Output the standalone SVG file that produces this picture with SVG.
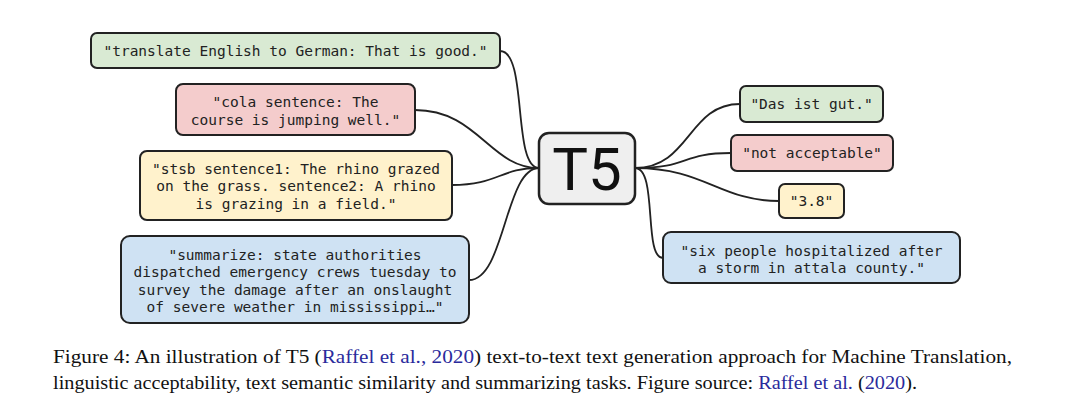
<svg xmlns="http://www.w3.org/2000/svg" width="1080" height="412" viewBox="0 0 1080 412">
<style>
.box{stroke:#222;stroke-width:2}
.g{fill:#d9ead3}.r{fill:#f4cccc}.y{fill:#fff2cc}.b{fill:#cfe2f3}.t{fill:#efefef}
.m{font-family:"DejaVu Sans Mono","Liberation Mono",monospace;font-size:14.5px;fill:#222;text-anchor:middle}
.c{fill:none;stroke:#222;stroke-width:1.8}
.cap{font-family:"Liberation Serif",serif;font-size:18px;fill:#111}
.lk{fill:#2a2a9c}
</style>
<rect width="1080" height="412" fill="#fff"/>
<g id="connectors">
<path class="c" d="M500,51 C528,51 512,168 539,168"/>
<path class="c" d="M415,110 C478,110 490,168 539,168"/>
<path class="c" d="M452,185 C498,185 500,168 539,168"/>
<path class="c" d="M469,280 C505,280 505,168 539,168"/>
<path class="c" d="M635,168 C690,168 688,104 740,104"/>
<path class="c" d="M635,168 C690,168 680,153 731,153"/>
<path class="c" d="M635,168 C705,168 720,201 779,201"/>
<path class="c" d="M635,168 C658,168 643,258 663,258"/>
</g>
<g id="in1"><rect class="box g" x="91" y="33" width="409" height="35" rx="6"/>
<text class="m" x="295.5" y="55.5">"translate English to German: That is good."</text></g>
<g id="in2"><rect class="box r" x="176" y="84" width="239" height="51" rx="7"/>
<text class="m" x="295.5" y="106.5">"cola sentence: The</text>
<text class="m" x="295.5" y="124.5">course is jumping well."</text></g>
<g id="in3"><rect class="box y" x="140" y="151" width="312" height="69" rx="7"/>
<text class="m" x="296" y="173.5">"stsb sentence1: The rhino grazed</text>
<text class="m" x="296" y="191">on the grass. sentence2: A rhino</text>
<text class="m" x="296" y="208.5">is grazing in a field."</text></g>
<g id="in4"><rect class="box b" x="121" y="236" width="348" height="87" rx="9"/>
<text class="m" x="295" y="259.5">"summarize: state authorities</text>
<text class="m" x="295" y="277">dispatched emergency crews tuesday to</text>
<text class="m" x="295" y="294.5">survey the damage after an onslaught</text>
<text class="m" x="295" y="312">of severe weather in mississippi…"</text></g>
<g id="t5"><rect class="box t" x="539" y="133" width="96" height="71" rx="10" style="stroke-width:2.5"/>
<text x="587" y="190" style="font-family:Roboto,'Liberation Sans',sans-serif;font-size:60px;fill:#111;text-anchor:middle">T5</text></g>
<g id="out1"><rect class="box g" x="740" y="86" width="143" height="36" rx="6"/>
<text class="m" x="811.5" y="108.5">"Das ist gut."</text></g>
<g id="out2"><rect class="box r" x="731" y="135" width="162" height="36" rx="6"/>
<text class="m" x="812" y="157.5">"not acceptable"</text></g>
<g id="out3"><rect class="box y" x="779" y="184" width="65" height="34" rx="6"/>
<text class="m" x="811.5" y="205.5">"3.8"</text></g>
<g id="out4"><rect class="box b" x="663" y="232" width="297" height="51" rx="8"/>
<text class="m" x="811.5" y="255.5">"six people hospitalized after</text>
<text class="m" x="811.5" y="273">a storm in attala county."</text></g>
<text class="cap" x="53" y="363" textLength="959" lengthAdjust="spacingAndGlyphs">Figure 4: An illustration of T5 (<tspan class="lk">Raffel et al., 2020</tspan>) text-to-text text generation approach for Machine Translation,</text>
<text class="cap" x="53" y="389" textLength="864" lengthAdjust="spacingAndGlyphs">linguistic acceptability, text semantic similarity and summarizing tasks. Figure source:  <tspan class="lk">Raffel et al.</tspan> (<tspan class="lk">2020</tspan>).</text>
</svg>
